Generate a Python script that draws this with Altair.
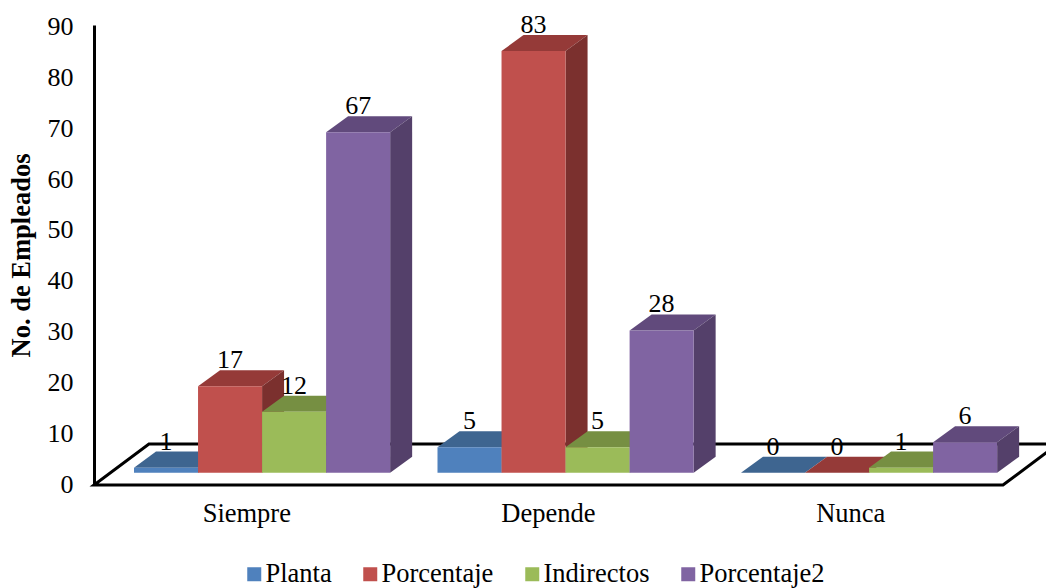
import altair as alt
import pandas as pd

categories = ["Siempre", "Depende", "Nunca"]
series = ["Planta", "Porcentaje", "Indirectos", "Porcentaje2"]
values = {
    "Planta": [1, 5, 0],
    "Porcentaje": [17, 83, 0],
    "Indirectos": [12, 5, 1],
    "Porcentaje2": [67, 28, 6],
}
front_colors = ["#4F81BD", "#C0504D", "#9BBB59", "#8064A2"]
top_colors = ["#3E6590", "#953A38", "#768F42", "#614A7C"]
side_colors = ["#325478", "#7B302E", "#5F7535", "#54406A"]

# Oblique projection, in axis units: x counts category slots, y counts employees
BAR_W = 0.211
DEPTH_X = 0.0725
DEPTH_Y = 3.15
BASE_Y = 2.42
FLOOR_X = 0.181
FLOOR_Y = 8.07
X_MIN, X_MAX = -0.1318, 3.005
Y_MAX = 90.55
LABEL_POS = [0.37, 1.364, 2.36]
FONT = "Liberation Serif"

label_expr = " : ".join(
    f"abs(datum.value - {p}) < 0.01 ? '{c}'" for p, c in zip(LABEL_POS, categories)
) + " : ''"

x_scale = alt.Scale(domain=[X_MIN, X_MAX], nice=False, zero=False)
y_scale = alt.Scale(domain=[0, Y_MAX], nice=False, zero=False)
x_enc = alt.X(
    "x:Q",
    scale=x_scale,
    title=None,
    axis=alt.Axis(
        values=LABEL_POS,
        labelExpr=label_expr,
        domain=False,
        ticks=False,
        grid=False,
        labelPadding=15,
        labelFontSize=26.5,
        labelFont=FONT,
        labelColor="black",
    ),
)
y_enc = alt.Y(
    "y:Q",
    scale=y_scale,
    title="No. de Empleados",
    axis=alt.Axis(
        values=list(range(0, 100, 10)),
        domainColor="black",
        domainWidth=3,
        ticks=False,
        grid=False,
        labelPadding=21,
        labelOffset=-1,
        labelFontSize=26,
        labelFont=FONT,
        labelColor="black",
        titleFont=FONT,
        titleFontSize=26.5,
        titleFontWeight="bold",
        titleColor="black",
        titleX=-59,
    ),
)

# Floor outline behind the bars
floor = pd.DataFrame(
    [
        {"edge": "outline", "n": 0, "x": X_MAX + FLOOR_X, "y": FLOOR_Y},
        {"edge": "outline", "n": 1, "x": X_MIN + FLOOR_X, "y": FLOOR_Y},
        {"edge": "outline", "n": 2, "x": X_MIN, "y": 0},
        {"edge": "outline", "n": 3, "x": X_MAX - 0.1417, "y": 0},
        {"edge": "outline", "n": 4, "x": X_MAX - 0.1417 + FLOOR_X, "y": FLOOR_Y},
    ]
)
layers = [
    alt.Chart(floor)
    .mark_line(color="black", strokeWidth=3, strokeJoin="miter")
    .encode(x=x_enc, y=y_enc, order="n:Q")
]

label_rows = []
for s_idx, name in enumerate(series):
    front_rows, top_rows, side_rows = [], [], []
    for c_idx, cat in enumerate(categories):
        v = values[name][c_idx]
        x0 = c_idx + s_idx * BAR_W
        x1 = x0 + BAR_W
        front_rows.append(
            {"series": name, "cat": cat, "x": x0, "x1": x1, "y": v + BASE_Y, "y0": BASE_Y}
        )
        top_rows += [
            {"cat": cat, "x": x0, "x1": x1, "y": v + BASE_Y},
            {"cat": cat, "x": x0 + DEPTH_X, "x1": x1 + DEPTH_X, "y": v + BASE_Y + DEPTH_Y},
        ]
        side_rows += [
            {"cat": cat, "x": x1, "y": v + BASE_Y, "y0": BASE_Y},
            {"cat": cat, "x": x1 + DEPTH_X, "y": v + BASE_Y + DEPTH_Y, "y0": BASE_Y + DEPTH_Y},
        ]
        label_rows.append(
            {"x": x0 + BAR_W / 2, "y": v + BASE_Y + DEPTH_Y, "label": str(v)}
        )

    # Each series paints its top, side and front in turn so later bars cover earlier ones
    layers.append(
        alt.Chart(pd.DataFrame(top_rows))
        .mark_area(orient="horizontal", color=top_colors[s_idx], opacity=1)
        .encode(x=x_enc, x2="x1:Q", y=y_enc, detail="cat:N")
    )
    layers.append(
        alt.Chart(pd.DataFrame(side_rows))
        .mark_area(color=side_colors[s_idx], opacity=1)
        .encode(x=x_enc, y=y_enc, y2="y0:Q", detail="cat:N")
    )
    layers.append(
        alt.Chart(pd.DataFrame(front_rows))
        .mark_rect(opacity=1)
        .encode(
            x=x_enc,
            x2="x1:Q",
            y=y_enc,
            y2="y0:Q",
            color=alt.Color(
                "series:N",
                scale=alt.Scale(domain=series, range=front_colors),
                legend=alt.Legend(
                    title=None,
                    orient="none",
                    legendX=147,
                    legendY=536,
                    direction="horizontal",
                    columns=4,
                    gridAlign="none",
                    columnPadding=25,
                    symbolType="square",
                    symbolSize=196,
                    symbolStrokeWidth=0,
                    symbolOpacity=1,
                    labelFont=FONT,
                    labelFontSize=26.5,
                    labelColor="black",
                    labelOffset={"expr": "-2"},
                ),
            ),
        )
    )

layers.append(
    alt.Chart(pd.DataFrame(label_rows))
    .mark_text(font=FONT, fontSize=26, color="black", baseline="middle", dy=-10)
    .encode(x=x_enc, y=y_enc, text="label:N")
)

chart = (
    alt.layer(*layers)
    .properties(
        width=952,
        height=460,
        autosize=alt.AutoSizeParams(type="none"),
        padding={"left": 94, "top": 25, "right": 0, "bottom": 103},
        background="white",
    )
    .configure_view(stroke=None)
)

chart.save("out.html", embed_options={"renderer": "svg", "actions": False})
